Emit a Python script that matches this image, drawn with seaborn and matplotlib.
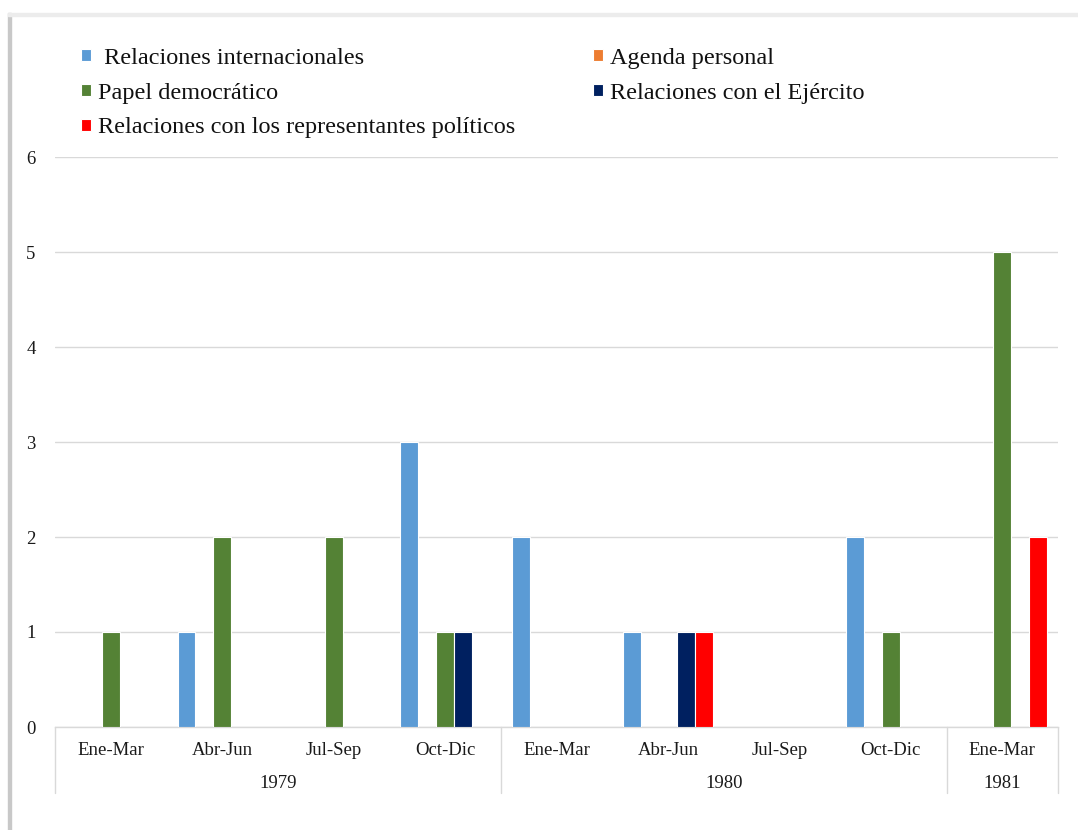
import matplotlib
matplotlib.use("Agg")
import matplotlib.pyplot as plt
import matplotlib.transforms as mtransforms
from matplotlib.patches import Rectangle
from matplotlib.font_manager import FontProperties
import seaborn as sns
import pandas as pd

# Quarterly counts of themes, 1979-1981
years = ["1979", "1979", "1979", "1979", "1980", "1980", "1980", "1980", "1981"]
quarters = ["Ene-Mar", "Abr-Jun", "Jul-Sep", "Oct-Dic",
            "Ene-Mar", "Abr-Jun", "Jul-Sep", "Oct-Dic", "Ene-Mar"]
series_names = [" Relaciones internacionales", "Agenda personal", "Papel democrático",
                "Relaciones con el Ejército", "Relaciones con los representantes políticos"]
rel_internacionales = [0, 1, 0, 3, 2, 1, 0, 2, 0]
agenda_personal = [0, 0, 0, 0, 0, 0, 0, 0, 0]
papel_democratico = [1, 2, 2, 1, 0, 0, 0, 1, 5]
rel_ejercito = [0, 0, 0, 1, 0, 1, 0, 0, 0]
rel_representantes = [0, 0, 0, 0, 0, 1, 0, 0, 2]
colors = ["#5b9bd5", "#ed7d31", "#548235", "#002060", "#ff0000"]

values = [rel_internacionales, agenda_personal, papel_democratico,
          rel_ejercito, rel_representantes]
slots = [f"{y}-{q}" for y, q in zip(years, quarters)]
rows = []
for name, vals in zip(series_names, values):
    for slot, v in zip(slots, vals):
        rows.append({"slot": slot, "serie": name, "valor": v})
df = pd.DataFrame(rows)

sns.set_theme(style="white")
plt.rcParams["font.family"] = ["Liberation Serif", "DejaVu Serif"]

fig = plt.figure(figsize=(10.78, 8.3), dpi=100)
W, H = 1078, 830
ax = fig.add_axes([55 / W, 1 - 727 / H, (1058 - 55) / W, (727 - 157) / H])

sns.barplot(data=df, x="slot", y="valor", hue="serie", order=slots,
            hue_order=series_names, palette=colors, saturation=1, width=0.8,
            edgecolor="white", linewidth=0.8, ax=ax, zorder=3)

ax.set_ylim(0, 6)
ax.set_xlim(-0.5, len(slots) - 0.5)
ax.set_yticks(range(0, 7))
ax.yaxis.grid(True, color="#d9d9d9", linewidth=1)
ax.set_axisbelow(True)
for s in ["left", "right", "top"]:
    ax.spines[s].set_visible(False)
ax.spines["bottom"].set_color("#d9d9d9")
ax.spines["bottom"].set_linewidth(1)
ax.tick_params(axis="y", length=0, pad=14, labelsize=13.5, labelcolor="#1a1a1a")
ax.set_xticks([])
ax.set_xlabel("")
ax.set_ylabel("")

# Two-level category axis: quarters, then years with separators
trans = mtransforms.blended_transform_factory(ax.transData, fig.transFigure)
for i, q in enumerate(quarters):
    ax.text(i, 1 - 750 / H, q, transform=trans, ha="center", va="center",
            fontsize=13.5, color="#1a1a1a")
year_groups = []
for i, y in enumerate(years):
    if not year_groups or year_groups[-1][0] != y:
        year_groups.append([y, i, i])
    else:
        year_groups[-1][2] = i
bounds = [-0.5] + [g[2] + 0.5 for g in year_groups]
for b in bounds:
    ax.plot([b, b], [1 - 727 / H, 1 - 793 / H], transform=trans,
            color="#d9d9d9", linewidth=1, clip_on=False)
for y, i0, i1 in year_groups:
    ax.text((i0 + i1) / 2, 1 - 783 / H, y, transform=trans, ha="center",
            va="center", fontsize=13.5, color="#1a1a1a")

# Legend in two columns above the plot
handles, labels = ax.get_legend_handles_labels()
ax.get_legend().remove()
order = [0, 2, 4, 1, 3]
legend_font = FontProperties(family=["Liberation Serif", "DejaVu Serif"], size=17.5)
fig.legend([handles[i] for i in order], [labels[i] for i in order],
           loc="upper left", bbox_to_anchor=(81 / W, 1 - 48 / H), ncol=2,
           frameon=False, prop=legend_font, handlelength=0.4, handleheight=0.4,
           handletextpad=0.3, labelspacing=0.565, columnspacing=3.2,
           borderaxespad=0, borderpad=0, labelcolor="#111111")

# Frame with soft shadow on the left and top
fig.patches.append(Rectangle((8 / W, -0.01), 3 / W, 1 - 13 / H + 0.01,
                             transform=fig.transFigure, color="#c8c8c8",
                             zorder=0))
fig.patches.append(Rectangle((8 / W, 1 - 16 / H), 1.0, 3 / H,
                             transform=fig.transFigure, color="#ececec",
                             zorder=0))

fig.savefig("out.png", dpi=100)
